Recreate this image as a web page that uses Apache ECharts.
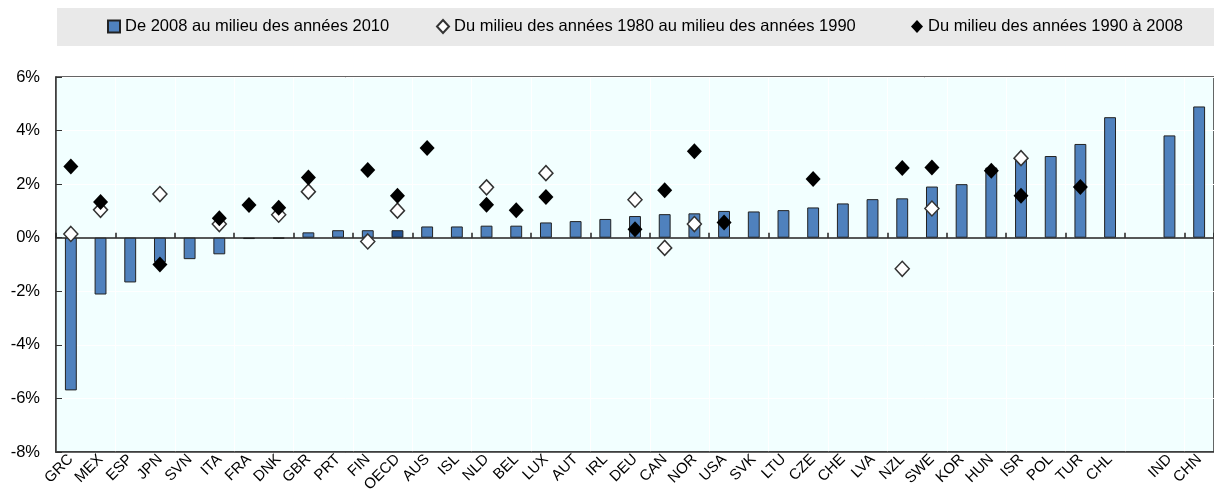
<!DOCTYPE html>
<html>
<head>
<meta charset="utf-8">
<script src="https://cdn.jsdelivr.net/npm/echarts@6/dist/echarts.min.js"></script>
<style>
  html, body { margin: 0; padding: 0; background: #fff; }
  #main { width: 1214px; height: 501px; }
</style>
</head>
<body>
<div id="main"></div>
<script>
// pays (case vide entre CHL et IND)
var categories = ['GRC', 'MEX', 'ESP', 'JPN', 'SVN', 'ITA', 'FRA', 'DNK', 'GBR', 'PRT',
    'FIN', 'OECD', 'AUS', 'ISL', 'NLD', 'BEL', 'LUX', 'AUT', 'IRL', 'DEU',
    'CAN', 'NOR', 'USA', 'SVK', 'LTU', 'CZE', 'CHE', 'LVA', 'NZL', 'SWE',
    'KOR', 'HUN', 'ISR', 'POL', 'TUR', 'CHL', '', 'IND', 'CHN'];

// De 2008 au milieu des années 2010
var since2008 = [-5.7, -2.12, -1.67, -0.92, -0.8, -0.62, -0.05, -0.03, 0.2, 0.28,
    0.28, 0.28, 0.42, 0.42, 0.45, 0.45, 0.57, 0.62, 0.7, 0.81,
    0.88, 0.91, 1.0, 0.98, 1.03, 1.13, 1.28, 1.44, 1.47, 1.91,
    2.0, 2.62, 2.95, 3.05, 3.5, 4.5, null, 3.82, 4.9];

// Du milieu des années 1980 au milieu des années 1990
var mid80sTo90s = [0.14, 1.04, null, 1.63, null, 0.51, null, 0.86, 1.72, null,
    -0.14, 1.01, null, null, 1.88, null, 2.41, null, null, 1.42,
    -0.38, 0.51, null, null, null, null, null, null, -1.16, 1.09,
    null, null, 2.97, null, null, null, null, null, null];

// Du milieu des années 1990 à 2008
var mid90sTo2008 = [2.66, 1.33, null, -1.0, null, 0.73, 1.22, 1.12, 2.25, null,
    2.53, 1.57, 3.35, null, 1.23, 1.03, 1.52, null, null, 0.32,
    1.77, 3.23, 0.57, null, null, 2.19, null, null, 2.6, 2.62,
    null, 2.5, 1.57, null, 1.89, null, null, null, null];

var seriesNames = ['De 2008 au milieu des années 2010',
    'Du milieu des années 1980 au milieu des années 1990',
    'Du milieu des années 1990 à 2008'];

var fontFam = '"Liberation Sans", Arial, sans-serif';

function start() {
    var myChart = echarts.init(document.getElementById('main'));

    var barData = since2008.map(function (v, i) {
        if (categories[i] === 'OECD') {
            return {value: v, itemStyle: {color: '#24528f'}};
        }
        return v;
    });

    var legendStyle = {fontSize: 16.5, color: '#000', fontFamily: fontFam};

    var option = {
        animation: false,
        backgroundColor: '#fff',
        graphic: [{
            type: 'rect',
            shape: {x: 57, y: 8, width: 1157, height: 38},
            style: {fill: '#e9e9e9'},
            z: -1
        }],
        legend: [
            {
                data: [{name: seriesNames[0], icon: 'rect'}], left: 107, top: 18,
                itemWidth: 12, itemHeight: 12, itemGap: 2, padding: 0,
                textStyle: legendStyle
            },
            {
                data: [seriesNames[1]], left: 436, top: 18,
                itemWidth: 12, itemHeight: 13, padding: 0,
                textStyle: legendStyle
            },
            {
                data: [seriesNames[2]], left: 911, top: 18,
                itemWidth: 12, itemHeight: 13, padding: 0,
                textStyle: legendStyle
            }
        ],
        grid: {
            left: 56, right: 0, top: 77, bottom: 49,
            show: true,
            backgroundColor: '#f2ffff',
            borderColor: '#333',
            borderWidth: 1.5
        },
        xAxis: [
            {
                type: 'category',
                data: categories,
                position: 'bottom',
                axisLine: {onZero: true, lineStyle: {color: '#222', width: 1.5}},
                axisTick: {show: true, inside: true, length: 5, lineStyle: {color: '#222', width: 1.5}},
                axisLabel: {show: false},
                splitLine: {show: true, lineStyle: {color: '#ffffff', width: 1}}
            },
            {
                type: 'category',
                data: categories,
                position: 'bottom',
                axisLine: {onZero: false, lineStyle: {color: '#333', width: 1.5}},
                axisTick: {show: false},
                axisLabel: {
                    rotate: 45, interval: 0, margin: 5,
                    fontSize: 15, color: '#000', fontFamily: fontFam
                }
            }
        ],
        yAxis: {
            type: 'value',
            min: -8, max: 6, interval: 2,
            axisLine: {show: true, lineStyle: {color: '#333', width: 1.5}},
            axisTick: {show: true, inside: true, length: 6, lineStyle: {color: '#333'}},
            axisLabel: {
                formatter: '{value}%', fontSize: 16.5, color: '#000',
                fontFamily: fontFam, margin: 16
            },
            splitLine: {show: true, lineStyle: {color: '#ffffff', width: 1}}
        },
        series: [
            {
                name: seriesNames[0],
                type: 'bar',
                data: barData,
                barWidth: '40%',
                itemStyle: {color: '#4f81bd', borderColor: '#222', borderWidth: 1}
            },
            {
                name: seriesNames[1],
                type: 'scatter',
                data: mid80sTo90s,
                symbol: 'diamond',
                symbolSize: [14, 15],
                itemStyle: {color: '#ffffff', borderColor: '#333', borderWidth: 1.5, opacity: 1},
                z: 3
            },
            {
                name: seriesNames[2],
                type: 'scatter',
                data: mid90sTo2008,
                symbol: 'diamond',
                symbolSize: [15, 16],
                itemStyle: {color: '#000000', opacity: 1},
                z: 4
            }
        ]
    };
    myChart.setOption(option);
}

start();
</script>
</body>
</html>
